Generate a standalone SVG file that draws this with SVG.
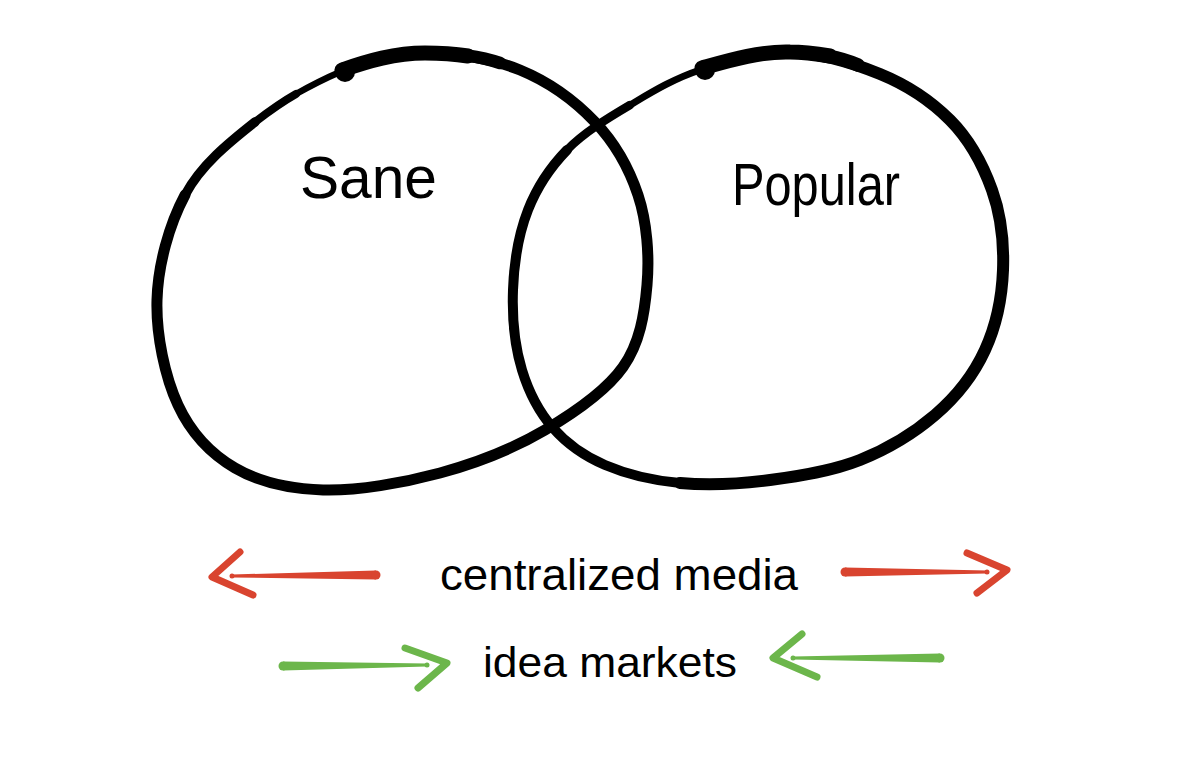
<svg xmlns="http://www.w3.org/2000/svg" width="1200" height="763" viewBox="0 0 1200 763">
  <style>
    .loop { fill: none; stroke: #000; stroke-linecap: round; stroke-linejoin: round; }
    .lbl { font-family: "Liberation Sans", Arial, sans-serif; fill: #000; }
    .head { fill: none; stroke-width: 7; stroke-linecap: round; stroke-linejoin: round; }
    .red { stroke: #d9442f; }
    .redf { fill: #d9442f; }
    .green { stroke: #6cb64b; }
    .greenf { fill: #6cb64b; }
  </style>
  <rect width="1200" height="763" fill="#fff"/>

  <g id="sane">
    <path class="loop" stroke-width="11" d="M425,53 C455,53 492,58.5 520,70 C548,81.5 575,101 595,122 C615,143 629,168 638,195 C647,222 649.5,256 647,285 C644.5,314 640,343 623,367 C606,391 575.5,412 545,430 C514.5,448 477,463 440,473 C403,483 357,491 323,490 C289,489 259,482 235,468 C211,454 191,433 178,405 C165,377 156,335 157,300 C158,265 169,225 185,195"/>
    <path class="loop" stroke-width="9.5" d="M185,195 C201,165 229,142.5 255,122"/>
    <path class="loop" stroke-width="8" d="M255,122 C268,112 282,102 296,94"/>
    <path class="loop" stroke-width="6.5" d="M296,94 C312,85 326,78 340,72"/>
    <path class="loop" stroke-width="12.5" d="M425,53 C455,53 480,56 500,63"/>
    <path class="loop" stroke-width="15" d="M342,70 C368,61 395,53 425,53 C440,53 455,54 468,56"/>
    <circle cx="345" cy="72" r="10" fill="#000"/>
    <text class="lbl" x="300" y="198" font-size="60" textLength="137" lengthAdjust="spacingAndGlyphs">Sane</text>
  </g>

  <g id="popular">
    <path class="loop" stroke-width="12" d="M790,52 C820,53 853,63 880,74 C907,85 931,101 950,120 C969,139 983,165 992,190 C1001,215 1004,243 1003,270 C1002,297 996,326 985,350 C974,374 956,397 935,415 C914,433 887.5,449 860,460 C832.5,471 800,476 770,480 C740,484 707.5,485.5 680,483"/>
    <path class="loop" stroke-width="10" d="M680,483 C652.5,480.5 626,474 605,465 C584,456 567,444 553,428 C539,412 529,393 522,370 C515,347 512,317 513,290 C514,263 519,233 528,210 C537,187 550,167.5 567,150"/>
    <path class="loop" stroke-width="8.5" d="M567,150 C584,132.5 608,118 630,105"/>
    <path class="loop" stroke-width="7" d="M630,105 C652,92 673,79 700,70"/>
    <path class="loop" stroke-width="13.5" d="M790,52 C820,53 840,57 858,65"/>
    <path class="loop" stroke-width="15" d="M702,68 C727,61 760,51 790,52 C805,52 818,54 830,56"/>
    <circle cx="705" cy="70" r="10" fill="#000"/>
    <text class="lbl" x="732" y="205" font-size="60" textLength="168" lengthAdjust="spacingAndGlyphs">Popular</text>
  </g>

  <g id="centralized-media">
    <text class="lbl" x="440" y="590" font-size="45" textLength="358" lengthAdjust="spacingAndGlyphs">centralized media</text>
  </g>

  <g id="idea-markets">
    <text class="lbl" x="483" y="677" font-size="42" textLength="254" lengthAdjust="spacingAndGlyphs">idea markets</text>
  </g>

  <g id="connectors">
    <!-- red left arrow -->
    <polygon class="redf" points="232,574.5 376,570.5 376,579.5 232,577.5"/>
    <circle class="redf" cx="376" cy="575" r="4.5"/>
    <circle class="redf" cx="232" cy="576" r="2.5"/>
    <polyline class="head red" points="240,552 212,577 253,595"/>
    <!-- red right arrow -->
    <polygon class="redf" points="845,567.5 987,570.5 987,573.5 845,576.5"/>
    <circle class="redf" cx="845" cy="572" r="4.5"/>
    <circle class="redf" cx="987" cy="572" r="2.5"/>
    <polyline class="head red" points="967,553 1007,570 977,593"/>
    <!-- green right-pointing arrow -->
    <polygon class="greenf" points="283,661.5 427,663.5 427,666.5 283,670.5"/>
    <circle class="greenf" cx="283" cy="666" r="4.5"/>
    <circle class="greenf" cx="427" cy="665" r="2.5"/>
    <polyline class="head green" points="405,648 447,663 418,688"/>
    <!-- green left-pointing arrow -->
    <polygon class="greenf" points="793,656.5 940,653.5 940,662.5 793,659.5"/>
    <circle class="greenf" cx="940" cy="658" r="4.5"/>
    <circle class="greenf" cx="793" cy="658" r="2.5"/>
    <polyline class="head green" points="802,634 773,658 817,677"/>
  </g>
</svg>
